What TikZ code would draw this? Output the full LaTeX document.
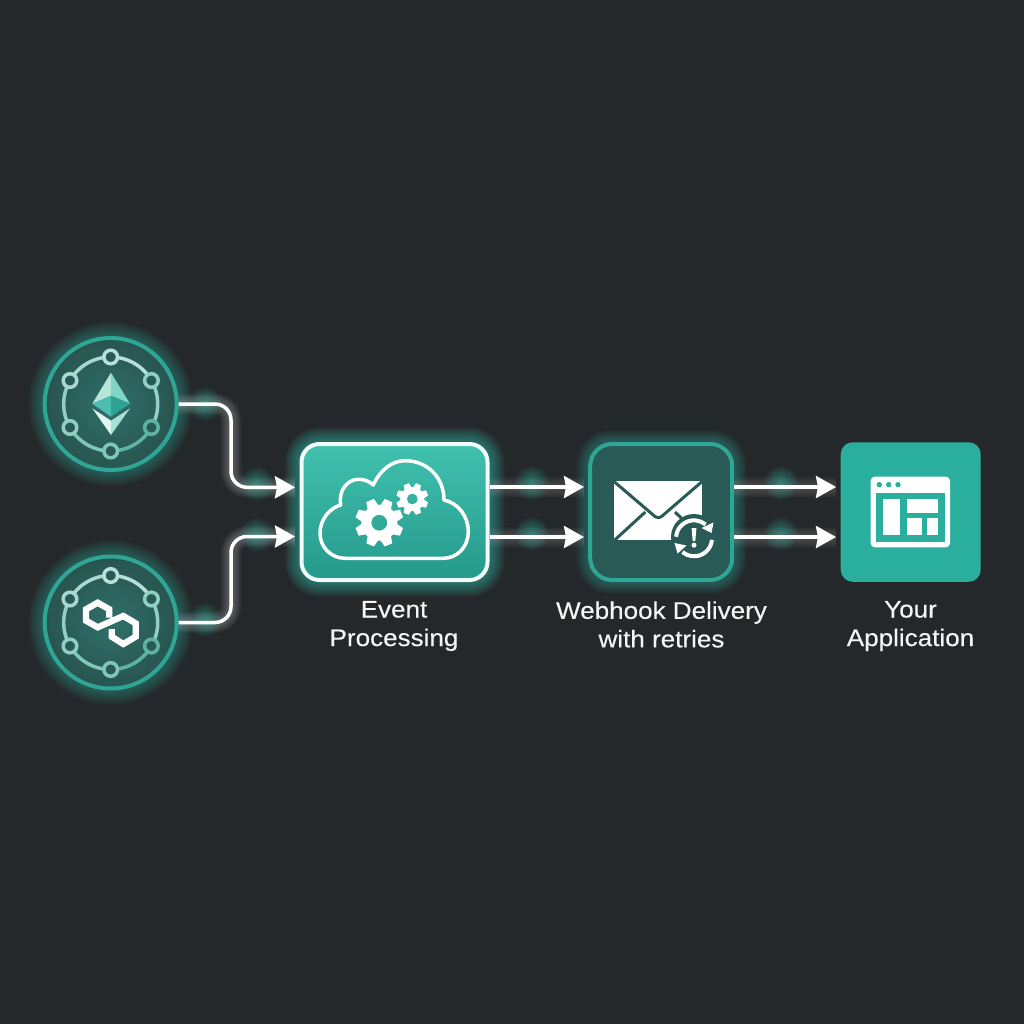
\documentclass[tikz,border=0pt]{standalone}
\usepackage{fontspec}
\setmainfont[FakeStretch=1.085,FakeBold=0.25]{Liberation Sans}
\usetikzlibrary{arrows.meta}
\definecolor{bgc}{HTML}{25282A}
\definecolor{tealring}{HTML}{2FA596}
\definecolor{tealdark}{HTML}{2A5A55}
\definecolor{tealmid}{HTML}{30706A}
\definecolor{tealedge}{HTML}{28544F}
\definecolor{tealglow}{HTML}{3FD0BC}
\definecolor{appteal}{HTML}{2AAE9E}
\definecolor{proctop}{HTML}{41C1AF}
\definecolor{procbot}{HTML}{25998B}
\definecolor{ethA}{HTML}{B4E6DC}
\definecolor{ethB}{HTML}{7FD5C6}
\definecolor{ethC}{HTML}{4DBDAF}
\definecolor{ethD}{HTML}{2FA294}
\definecolor{ethE}{HTML}{E0F4F0}
\definecolor{ethF}{HTML}{A7E0D5}
\pgfdeclarelayer{bg}
\pgfsetlayers{bg,main}
\tikzset{
  hubdisc/.style={circle,draw=tealring,line width=4pt,minimum size=132pt,inner sep=0pt,outer sep=2pt,inner color=tealmid,outer color=tealedge},
  wire/.style={draw=white,line width=3.5pt,rounded corners=16pt,-{Stealth[length=20pt,width=22pt,inset=2pt]}},
  txtlabel/.style={text=white!96!black,font=\fontsize{24}{28.5}\selectfont,align=center,inner sep=0pt},
  procbox/.style={rounded corners=18pt,draw=white!92!tealglow,line width=4pt,minimum width=186pt,minimum height=136pt,top color=proctop,bottom color=procbot,inner sep=0pt,outer sep=2pt},
  mailbox/.style={rounded corners=22pt,draw=tealring,line width=4pt,minimum width=142pt,minimum height=136pt,fill=tealdark,inner sep=0pt,outer sep=2pt},
  appbox/.style={rounded corners=12pt,fill=appteal,minimum width=140pt,minimum height=139.5pt,inner sep=0pt,outer sep=0pt},
}
\newcommand\spot[2]{\foreach \r in {1,2,...,17}{\fill[tealglow,opacity=.035] (#1,#2) circle[radius=\r];}}
\newcommand\hub[2]{%
  \begin{scope}[shift={(#1,#2)}]
    \foreach \a/\c in {-90/B8DFD8,-30/90CFC3,30/5FB3A4,90/7FC7B8,150/8FD0C3,210/A8D8CF}{
      \definecolor{hc}{HTML}{\c}
      \draw[hc,line width=3.5pt] (\a:47) arc[start angle=\a,end angle=\a+60,radius=47];
    }
    \foreach \a/\c in {-90/B8DFD8,-30/90CFC3,30/5FB3A4,90/7FC7B8,150/8FD0C3,210/A8D8CF}{
      \definecolor{hc}{HTML}{\c}
      \fill[tealdark,draw=hc,line width=3.5pt] (\a:47) circle[radius=6.8];
    }
  \end{scope}}
\newcommand\gear[5]{%
  \begin{scope}[shift={(#1,#2)}]
    \foreach \t in {0,45,...,315}{
      \begin{scope}[rotate=\t+22.5]
        \fill[white] (-#3*.34,#3*.8) -- (-#4*.17,#4) -- (#4*.17,#4) -- (#3*.34,#3*.8) -- cycle;
      \end{scope}}
    \fill[white,even odd rule] (0,0) circle[radius=#3] (0,0) circle[radius=#5];
  \end{scope}}
\begin{document}
\begin{tikzpicture}[x=1pt,y=-1pt,line cap=butt]
\useasboundingbox (0,0) rectangle (1024,1024);
\begin{pgfonlayer}{bg}
\fill[bgc] (0,0) rectangle (1024,1024);
\end{pgfonlayer}

% nodes
\node[hubdisc] (src1) at (110.7,404) {};
\node[hubdisc] (src2) at (110.7,622.5) {};
\node[procbox] (proc) at (394.5,512) {};
\node[mailbox] (mail) at (661.2,512) {};
\node[appbox] (app) at (910.7,512) {};
\node[txtlabel] (t1) at (394,626) {Event\\Processing};
\node[txtlabel] (t2) at (661.5,624.5) {Webhook Delivery\\with retries};
\node[txtlabel] (t3) at (910.5,626) {Your\\Application};

% named ends
\coordinate (bend) at (231,512);
\coordinate (in1) at (295,487.3);
\coordinate (in2) at (295,536.5);
\coordinate (m1) at (584,487);
\coordinate (m2) at (584,537);
\coordinate (a1) at (836,487);
\coordinate (a2) at (836,537);

% glows
\begin{pgfonlayer}{bg}
\foreach \w in {5,7,...,31}{
  \draw[tealglow,line width=\w pt,opacity=.028] (src1) circle[radius=67];
  \draw[tealglow,line width=\w pt,opacity=.028] (src2) circle[radius=67];
  \draw[tealglow,line width=\w pt,opacity=.04,rounded corners=20pt] (300,442.5) rectangle (489,581.5);
}
\foreach \w in {5,7,...,25}{
  \draw[tealglow,line width=\w pt,opacity=.03,rounded corners=22pt] (588.5,442.5) rectangle (734,581.5);
}
\foreach \w in {5,7,...,21}{
  \draw[white,line width=\w pt,opacity=.03,rounded corners=16pt] (src1.east) -- (bend |- src1.east) -- (bend |- in1) -- (in1);
  \draw[white,line width=\w pt,opacity=.03,rounded corners=16pt] (src2.east) -- (bend |- src2.east) -- (bend |- in2) -- (in2);
  \draw[white,line width=\w pt,opacity=.018] (proc.east |- m1) -- (m1);
  \draw[white,line width=\w pt,opacity=.018] (proc.east |- m2) -- (m2);
  \draw[white,line width=\w pt,opacity=.018] (mail.east |- a1) -- (a1);
  \draw[white,line width=\w pt,opacity=.018] (mail.east |- a2) -- (a2);
}
\spot{205}{404}\spot{257}{484}\spot{257}{535}\spot{205}{620}
\spot{532}{483}\spot{532}{534}\spot{781}{483}\spot{781}{534}
\end{pgfonlayer}

% connectors
\draw[wire] (src1.east) -- (bend |- src1.east) -- (bend |- in1) -- (in1);
\draw[wire] (src2.east) -- (bend |- src2.east) -- (bend |- in2) -- (in2);
\draw[wire] (proc.east |- m1) -- (m1);
\draw[wire] (proc.east |- m2) -- (m2);
\draw[wire] (mail.east |- a1) -- (a1);
\draw[wire] (mail.east |- a2) -- (a2);

% hub rings
\hub{110.7}{404}
\hub{110.7}{622.5}

% ethereum
\fill[ethA] (111,372.7) -- (92.3,403.7) -- (111,395.7) -- cycle;
\fill[ethB] (111,372.7) -- (130,403.7) -- (111,395.7) -- cycle;
\fill[ethC] (92.3,403.7) -- (111,395.7) -- (111,416.7) -- cycle;
\fill[ethD] (130,403.7) -- (111,395.7) -- (111,416.7) -- cycle;
\fill[ethE] (92.3,408.3) -- (111,420.7) -- (111,435) -- cycle;
\fill[ethF] (130,408.3) -- (111,420.7) -- (111,435) -- cycle;

% polygon
\draw[white,line width=6.3pt,line join=miter]
  (109.3,617.5) -- (109.3,609.3) -- (97.7,602.7) -- (86,609.3) -- (86,620.7) -- (97.7,627.3)
  -- (123.3,616) -- (135.7,623.3) -- (135.7,636.7) -- (123.3,644) -- (111.7,636.7) -- (111.7,629);

% cloud
\draw[white,line width=3.5pt,line join=round]
  (345,558.3) .. controls (331,558.3) and (320,547) .. (320,533.3)
  .. controls (320,519) and (330,508) .. (340.7,505)
  .. controls (338,490) and (348,479.3) .. (358.3,479.3)
  .. controls (364,479.3) and (369,481) .. (373.3,485)
  .. controls (380,470) and (392,460.7) .. (405,460.7)
  .. controls (428,460.7) and (444,478) .. (444,500)
  .. controls (458,503) and (468.3,516) .. (468.3,531.7)
  .. controls (468.3,547) and (457,558.3) .. (443.3,558.3) -- cycle;
\gear{379.3}{522.7}{18}{24}{8}
\gear{412.3}{499}{12}{16}{5.5}

% envelope
\fill[white] (614,480.7) rectangle (701.7,540);
\draw[tealdark,line width=3pt,line join=round,rounded corners=4pt] (611,479) -- (658.3,519.3) -- (705,479);
\draw[tealdark,line width=3pt] (611.5,543) -- (645.3,512);
\draw[tealdark,line width=3pt] (675,512) -- (705,541);
\fill[tealdark] (694,537) circle[radius=23];
\draw[white,line width=4pt] (694,538.3) ++(-175:18) arc[start angle=-175,end angle=-50,radius=18];
\draw[white,line width=4pt] (694,538.3) ++(5:18) arc[start angle=5,end angle=130,radius=18];
\fill[white] (713.5,522.5) -- (711.5,533) -- (701.5,528) -- cycle;
\fill[white] (674.5,543) -- (686.5,545.5) -- (677.5,553.5) -- cycle;
\fill[white] (691.6,528) -- (696.4,528) -- (695.3,541) -- (692.7,541) -- cycle;
\fill[white] (694,545.2) circle[radius=2.5];

% window
\fill[white,rounded corners=4pt] (870.7,476.7) rectangle (950,547.3);
\fill[appteal] (876,493.3) rectangle (945,541.7);
\foreach \x in {879.3,888.7,898}{\fill[appteal] (\x,484.7) circle[radius=2.7];}
\fill[white] (883.3,499.3) rectangle (900,535.3);
\fill[white] (906.7,499.3) rectangle (938.3,512.7);
\fill[white] (906.7,518) rectangle (921.7,535.3);
\fill[white] (926.7,518) rectangle (938.3,535.3);
\end{tikzpicture}
\end{document}
